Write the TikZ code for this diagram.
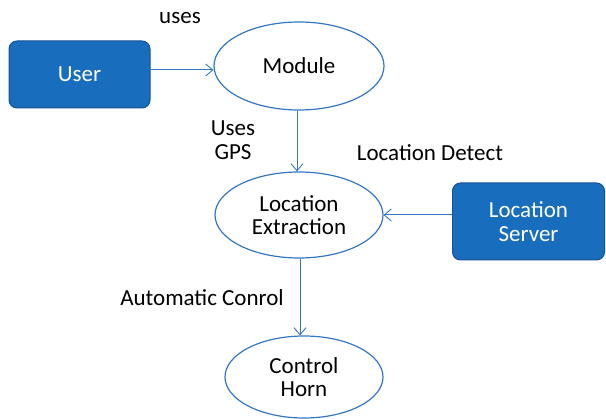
\documentclass[tikz,border=0pt]{standalone}
\usepackage{fontspec}
\setmainfont{Carlito}
\usetikzlibrary{arrows.meta,shapes.geometric}
\definecolor{boxfill}{RGB}{24,110,188}
\definecolor{boxline}{RGB}{22,82,150}
\definecolor{edgeblue}{RGB}{52,118,196}
\tikzset{
  px/.style={x=1pt,y=-1pt},
  bigtext/.style={font=\fontsize{23}{23.5}\selectfont},
  bluebox/.style={bigtext, draw=boxline, line width=1pt, fill=boxfill, rounded corners=8pt,
    text=white, align=center, inner sep=0pt},
  oval/.style={bigtext, draw=edgeblue, line width=1.2pt, ellipse, align=center, inner sep=0pt},
  link/.style={draw=edgeblue, line width=1pt, -{Straight Barb[length=7pt,width=12pt,line width=0.9pt]}},
  lbl/.style={bigtext, align=center, inner sep=0pt}
}
\begin{document}
\begin{tikzpicture}[px]
\useasboundingbox (0,0) rectangle (606,419);
% rectangular actors
\node[bluebox, minimum width=141pt, minimum height=67pt] (user) at (79.5,74.5) {User};
\node[bluebox, minimum width=152pt, minimum height=77pt] (server) at (528.5,221.5) {Location\\Server};
% elliptical processes
\node[oval, minimum width=170pt, minimum height=88pt] (module) at (299,66) {Module};
\node[oval, minimum width=168pt, minimum height=86pt] (extract) at (299,215) {Location\\Extraction};
\node[oval, minimum width=158pt, minimum height=82pt] (horn) at (304,377) {Control\\Horn};
% connectors
\draw[link] (user.east |- 0,70) -- (module.west |- 0,70);
\draw[link] (module.south -| 297,0) -- (extract.north -| 297,0);
\draw[link] (server.west |- 0,215) -- (extract.east |- 0,215);
\draw[link] (extract.south -| 300,0) -- (horn.north -| 300,0);
% labels
\node[lbl] (luses) at (180,18) {uses};
\node[lbl] (lgps) at (233,140) {Uses\\GPS};
\node[lbl] (ldetect) at (430,153) {Location Detect};
\node[lbl] (lauto) at (202,298) {Automatic Conrol};
\end{tikzpicture}
\end{document}
